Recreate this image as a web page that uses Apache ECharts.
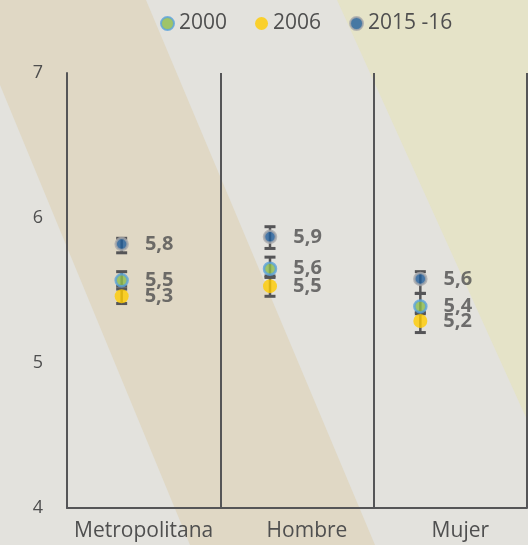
<!DOCTYPE html>
<html>
<head>
<meta charset="utf-8">
<script src="https://cdn.jsdelivr.net/npm/echarts@6/dist/echarts.min.js"></script>
<style>
  html, body { margin: 0; padding: 0; }
  #chart { width: 528px; height: 545px; }
</style>
</head>
<body>
<div id="chart"></div>
<script>
var categories = ['Metropolitana', 'Hombre', 'Mujer'];
var years = ['2000', '2006', '2015 -16'];

// point values
var values2000 = [5.57, 5.65, 5.39];
var values2006 = [5.46, 5.53, 5.29];
var values2015 = [5.82, 5.87, 5.58];

// printed labels
var labels2000 = ['5,5', '5,6', '5,4'];
var labels2006 = ['5,3', '5,5', '5,2'];
var labels2015 = ['5,8', '5,9', '5,6'];

// confidence intervals [low, high]
var ci2000 = [[5.53, 5.63], [5.60, 5.73], [5.35, 5.48]];
var ci2006 = [[5.41, 5.51], [5.46, 5.59], [5.21, 5.34]];
var ci2015 = [[5.76, 5.86], [5.79, 5.94], [5.48, 5.63]];

var yTicks = [4, 5, 6, 7];

var textColor = '#4f4f4f';
var lineColor = '#555557';
// horizontal shift of the marks inside each category band (px)
var shifts = [-22, -27, -30];

function errorSeries(ci) {
  return {
    type: 'custom',
    z: 1,
    silent: true,
    data: ci.map(function (d, i) { return [i, d[0], d[1]]; }),
    renderItem: function (params, api) {
      var lo = api.coord([api.value(0), api.value(1)]);
      var hi = api.coord([api.value(0), api.value(2)]);
      var x = lo[0] + shifts[params.dataIndex];
      var st = { stroke: lineColor, lineWidth: 3 };
      return {
        type: 'group',
        children: [
          { type: 'line', shape: { x1: x, y1: lo[1], x2: x, y2: hi[1] }, style: { stroke: lineColor, lineWidth: 2.5 } },
          { type: 'line', shape: { x1: x - 5.5, y1: lo[1], x2: x + 5.5, y2: lo[1] }, style: st },
          { type: 'line', shape: { x1: x - 5.5, y1: hi[1], x2: x + 5.5, y2: hi[1] }, style: st }
        ]
      };
    }
  };
}

function pointSeries(name, vals, labs, itemStyle, size) {
  return {
    name: name,
    type: 'scatter',
    z: 3,
    symbol: 'circle',
    symbolSize: size,
    itemStyle: itemStyle,
    data: vals.map(function (v, i) {
      return { value: v, symbolOffset: [shifts[i], 0] };
    }),
    label: {
      show: true,
      position: 'right',
      distance: 16,
      color: textColor,
      fontSize: 20,
      fontWeight: 'bold',
      fontFamily: 'Open Sans',
      formatter: function (p) { return labs[p.dataIndex]; }
    }
  };
}

var chart = echarts.init(document.getElementById('chart'));
chart.setOption({
  backgroundColor: '#e3e2dd',
  animation: false,
  graphic: [
    {
      type: 'polygon', z: -10, silent: true,
      shape: { points: [[0, 0], [146, 0], [375, 545], [190, 545], [0, 85]] },
      style: { fill: '#e0d8c5' }
    },
    {
      type: 'polygon', z: -10, silent: true,
      shape: { points: [[337, 0], [528, 0], [528, 422]] },
      style: { fill: '#e5e3c8' }
    }
  ],
  legend: {
    top: 8,
    left: 155,
    itemWidth: 13,
    itemHeight: 13,
    itemGap: 28,
    icon: 'circle',
    data: years,
    textStyle: { color: textColor, fontSize: 21, fontFamily: 'Open Sans' }
  },
  grid: { left: 67, right: 1, top: 73, bottom: 37 },
  xAxis: {
    type: 'category',
    data: categories,
    boundaryGap: true,
    axisLine: { lineStyle: { color: lineColor, width: 2 } },
    axisTick: { show: false },
    axisLabel: {
      interval: 0, color: textColor, fontSize: 21, fontFamily: 'Open Sans', margin: 13,
      formatter: function (v, i) { return '{c' + i + '|' + v + '}'; },
      rich: {
        c0: { fontSize: 21, fontFamily: 'Open Sans', color: textColor },
        c1: { fontSize: 21, fontFamily: 'Open Sans', color: textColor, padding: [0, 0, 0, 20] },
        c2: { fontSize: 21, fontFamily: 'Open Sans', color: textColor, padding: [0, 0, 0, 20] }
      }
    },
    splitLine: { show: true, interval: 0, lineStyle: { color: lineColor, width: 2 } }
  },
  yAxis: {
    type: 'value',
    min: yTicks[0],
    max: yTicks[yTicks.length - 1],
    interval: 1,
    axisLine: { show: true, lineStyle: { color: lineColor, width: 2 } },
    axisTick: { show: false },
    splitLine: { show: false },
    axisLabel: { color: textColor, fontSize: 18, fontFamily: 'Open Sans', margin: 24 }
  },
  series: [
    errorSeries(ci2000),
    errorSeries(ci2006),
    errorSeries(ci2015),
    pointSeries(years[0], values2000, labels2000,
      { color: '#8dbd4b', borderColor: '#5aa3dc', borderWidth: 2.5 }, 12),
    pointSeries(years[1], values2006, labels2006,
      { color: '#ffcc00' }, 14),
    pointSeries(years[2], values2015, labels2015,
      { color: '#1f5c9a', borderColor: '#a9a9ab', borderWidth: 2.5 }, 12)
  ]
});
</script>
</body>
</html>
